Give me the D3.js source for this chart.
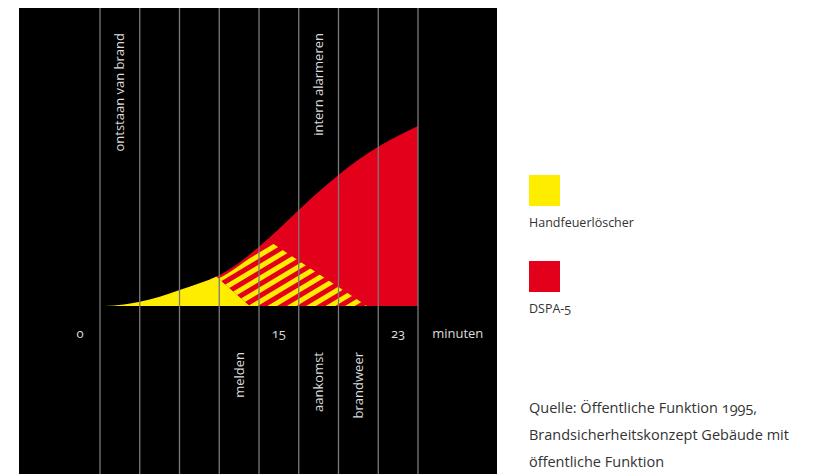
<!DOCTYPE html>
<html>
<head>
<meta charset="utf-8">
<script src="https://cdn.jsdelivr.net/npm/d3@7"></script>
<style>
  body { margin: 0; background: #fff; }
  svg text { font-family: "Open Sans", "Noto Sans", sans-serif; font-variant-numeric: oldstyle-nums; }
</style>
</head>
<body>
<div class="board"></div>
<script>
// time axis is split in 12 columns, curve values run 0..100

// vertical grid lines (column boundaries)
var gridCols = [2, 3, 4, 5, 6, 7, 8, 9, 10];

// minute labels under the baseline
var tickCols = [1.5, 6.5, 9.5, 11];
var tickLabels = ['0', '15', '23', 'minuten'];

// phase labels above and below the baseline
var topCols = [2.5, 7.5];
var topLabels = ['ontstaan van brand', 'intern alarmeren'];
var bottomCols = [5.5, 7.5, 8.5];
var bottomLabels = ['melden', 'aankomst', 'brandweer'];

// fire growth curve
var curveCols = [2.13, 2.6, 3, 3.5, 4, 4.5, 5, 5.5, 6, 6.5, 7, 7.5, 8, 8.5, 9, 9.5, 10];
var curveValues = [0, 0.8, 2.4, 5.2, 8.9, 12.6, 17.1, 24, 32.9, 42.8, 53.3, 63.5, 72.8, 81.2, 88.5, 94.6, 100];

// region outlines (cut by the curve afterwards)
var redCols = [4, 5, 5, 10.2, 10.2];
var redValues = [0, 20, 110, 110, 0];
var yellowCols = [2, 2, 3.2, 5.77];
var yellowValues = [0, 50, 50, 0];
var hatchCols = [5.77, 3.2, 5.3, 8.72];
var hatchValues = [0, 50, 50, 0];

// legend
var legendNames = ['Handfeuerlöscher', 'DSPA-5'];
var legendColors = ['#ffed00', '#e2001a'];

var sourceLines = ['Quelle: Öffentliche Funktion 1995,', 'Brandsicherheitskonzept Gebäude mit', 'öffentliche Funktion'];

var svg = d3.select('.board')
  .append('svg')
  .attr('width', 815)
  .attr('height', 474);

var x = d3.scaleLinear().domain([0, 12]).range([20.5, 497.5]);
var y = d3.scaleLinear().domain([0, 100]).range([306, 126]);

var curvePts = curveCols.map(function(c, i) { return [c, curveValues[i]]; });
var zip = function(cols, vals) { return cols.map(function(c, i) { return [c, vals[i]]; }); };

var defs = svg.append('defs');

var area = d3.area()
  .x(function(d) { return x(d[0]); })
  .y0(y(0))
  .y1(function(d) { return y(d[1]); })
  .curve(d3.curveMonotoneX);

defs.append('clipPath').attr('id', 'under')
  .append('path').attr('d', area(curvePts));

defs.append('clipPath').attr('id', 'underInset')
  .append('path').attr('d', area(curvePts)).attr('transform', 'translate(0,3)');

var pat = defs.append('pattern')
  .attr('id', 'stripes')
  .attr('patternUnits', 'userSpaceOnUse')
  .attr('width', 10)
  .attr('height', 10)
  .attr('patternTransform', 'rotate(-31)');
pat.append('rect').attr('width', 10).attr('height', 10).attr('fill', '#e2001a');
pat.append('rect').attr('width', 10).attr('height', 5).attr('fill', '#ffed00');

// black panel
svg.append('rect')
  .attr('x', 19)
  .attr('y', 8)
  .attr('width', 478)
  .attr('height', 466)
  .attr('fill', '#000');

var poly = d3.line()
  .x(function(d) { return x(d[0]); })
  .y(function(d) { return y(d[1]); });

svg.append('path')
  .attr('d', poly(zip(redCols, redValues)) + 'Z')
  .attr('fill', '#e2001a')
  .attr('clip-path', 'url(#under)');

svg.append('path')
  .attr('d', poly(zip(yellowCols, yellowValues)) + 'Z')
  .attr('fill', '#ffed00')
  .attr('clip-path', 'url(#under)');

svg.append('g')
  .attr('clip-path', 'url(#under)')
  .append('path')
  .attr('d', poly(zip(hatchCols, hatchValues)) + 'Z')
  .attr('fill', 'url(#stripes)')
  .attr('clip-path', 'url(#underInset)');

// grid lines
svg.selectAll('.grid')
  .data(gridCols)
  .enter()
  .append('line')
  .attr('x1', function(d) { return x(d); })
  .attr('x2', function(d) { return x(d); })
  .attr('y1', 8)
  .attr('y2', 474)
  .attr('stroke', '#7a7a7a')
  .attr('stroke-width', 1.3);

// minute ticks
svg.selectAll('.tick')
  .data(tickCols)
  .enter()
  .append('text')
  .attr('x', function(d) { return x(d); })
  .attr('y', 338)
  .attr('text-anchor', 'middle')
  .attr('fill', '#dcdcdc')
  .attr('font-size', 13)
  .text(function(d, i) { return tickLabels[i]; });

var vlabel = function(cols, labels, top) {
  svg.selectAll(null)
    .data(cols)
    .enter()
    .append('text')
    .attr('transform', function(d) { return 'translate(' + x(d) + ',' + top + ') rotate(-90)'; })
    .attr('dy', '0.35em')
    .attr('text-anchor', 'end')
    .attr('fill', '#dcdcdc')
    .attr('font-size', 13)
    .text(function(d, i) { return labels[i]; });
};
vlabel(topCols, topLabels, 33);
vlabel(bottomCols, bottomLabels, 352);

// legend
var leg = svg.selectAll('.leg')
  .data(legendNames)
  .enter()
  .append('g')
  .attr('transform', function(d, i) { return 'translate(529,' + (175 + i * 86) + ')'; });
leg.append('rect')
  .attr('width', 31)
  .attr('height', 31)
  .attr('fill', function(d, i) { return legendColors[i]; });
leg.append('text')
  .attr('y', 52)
  .attr('fill', '#333')
  .attr('font-size', 12.5)
  .text(function(d) { return d; });

svg.selectAll('.src')
  .data(sourceLines)
  .enter()
  .append('text')
  .attr('x', 529)
  .attr('y', function(d, i) { return 413 + i * 27; })
  .attr('fill', '#333')
  .attr('font-size', 14.5)
  .text(function(d) { return d; });
</script>
</body>
</html>
